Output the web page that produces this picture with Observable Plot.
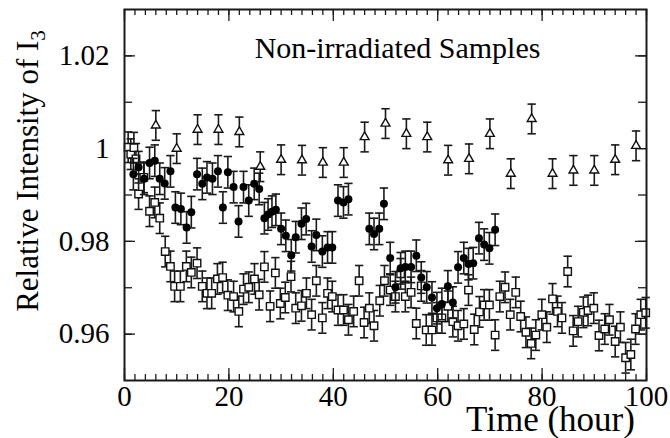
<!DOCTYPE html>
<html>
<head>
<meta charset="utf-8">
<script src="https://cdn.jsdelivr.net/npm/d3@7"></script>
<script src="https://cdn.jsdelivr.net/npm/@observablehq/plot@0.6"></script>
<style>
  html, body { margin: 0; padding: 0; background: #fff; }
  #chart svg { display: block; }
</style>
</head>
<body>
<div id="chart"></div>
<script>
// ---- data ----
const triT = [6, 10, 14, 18, 22, 26, 30, 34, 38, 42, 46, 50, 54, 58, 62, 66, 70, 74, 78, 82, 86, 90, 94, 98];
const triV = [1.005, 1.000, 1.0041, 1.0041, 1.0036, 0.9961, 0.9976, 0.9975, 0.997, 0.997, 1.0025, 1.0054, 1.0032, 1.0025, 0.9975, 0.9978, 1.0032, 0.9946, 1.0064, 0.9946, 0.9953, 0.9953, 0.9976, 1.0006];

const circT = [1.7, 2.7, 3.75, 4.8, 5.8, 6.75, 7.7, 8.8, 9.75, 10.8, 11.9, 12.8, 13.9, 14.9, 15.8, 16.85, 17.9, 18.85, 19.8, 20.9, 21.85, 22.8, 23.8, 24.85, 25.8, 26.8, 27.5, 28.25, 29, 30, 30.9, 31.95, 32.8, 33.9, 34.8, 35.85, 36.75, 37.9, 38.9, 39.8, 40.9, 41.95, 42.9, 46.9, 47.8, 48.8, 49.7, 50.9, 51.9, 52.9, 53.8, 54.9, 55.9, 56.85, 57.9, 58.9, 59.85, 60.8, 61.95, 62.9, 63.9, 65, 65.9, 66.8, 67.9, 68.9, 69.9, 71];
const circV = [0.9945, 0.996, 0.9935, 0.9969, 0.9974, 0.9935, 0.9925, 0.9951, 0.9873, 0.987, 0.983, 0.9863, 0.9945, 0.9924, 0.9938, 0.9935, 0.9951, 0.9873, 0.9949, 0.9917, 0.9843, 0.9917, 0.9888, 0.9924, 0.9913, 0.985, 0.9858, 0.9864, 0.9868, 0.9827, 0.9812, 0.977, 0.9809, 0.9838, 0.9848, 0.9789, 0.9814, 0.9778, 0.9787, 0.9787, 0.9888, 0.9884, 0.9891, 0.9827, 0.9816, 0.9827, 0.9881, 0.9764, 0.9701, 0.9742, 0.9745, 0.9745, 0.9769, 0.9722, 0.9701, 0.9679, 0.9656, 0.9665, 0.9703, 0.9668, 0.9744, 0.9764, 0.9751, 0.9753, 0.9807, 0.9793, 0.9785, 0.9825];

const sqT = [0.7, 1.2, 1.8, 2.2, 2.7, 3.7, 4.8, 5.8, 6.75, 7.8, 8.8, 9.6, 10.7, 11.85, 12.8, 13.9, 14.9, 15.8, 16.7, 17.8, 18.8, 19.8, 20.9, 21.9, 22.8, 23.8, 24.9, 25.8, 26.8, 27.9, 28.9, 29.85, 30.8, 31.9, 32.8, 33.9, 34.85, 35.85, 36.75, 37.9, 38.9, 39.8, 40.9, 41.95, 42.9, 43.9, 44.95, 45.9, 46.9, 47.8, 48.9, 49.8, 50.9, 51.9, 52.9, 53.8, 54.9, 55.9, 56.85, 57.8, 58.9, 59.85, 60.8, 61.95, 62.9, 63.9, 65, 65.9, 67, 68, 68.9, 69.9, 71, 71.9, 72.9, 73.9, 74.95, 75.9, 76.9, 77.9, 78.8, 79.95, 80.9, 82, 82.95, 83.8, 84.9, 85.95, 86.9, 87.9, 88.8, 89.9, 90.9, 92, 92.9, 94, 95, 96, 97, 97.9, 98.9, 99.85];
const sqV = [1.0003, 0.9988, 1.0002, 0.9978, 0.9902, 0.9938, 0.9865, 0.9884, 0.985, 0.9778, 0.9746, 0.9703, 0.9703, 0.9746, 0.9733, 0.9753, 0.9703, 0.9688, 0.9688, 0.9719, 0.9722, 0.9684, 0.9681, 0.9649, 0.9697, 0.9701, 0.9719, 0.9685, 0.9745, 0.966, 0.9732, 0.9666, 0.9679, 0.9724, 0.9656, 0.9661, 0.9688, 0.9642, 0.9715, 0.9635, 0.9688, 0.9681, 0.9652, 0.9652, 0.9631, 0.9649, 0.9715, 0.9625, 0.9656, 0.9618, 0.9672, 0.9715, 0.9695, 0.9681, 0.973, 0.9681, 0.969, 0.9623, 0.9704, 0.9609, 0.9609, 0.9635, 0.9635, 0.966, 0.9627, 0.9618, 0.9622, 0.9695, 0.961, 0.9648, 0.9663, 0.9663, 0.9598, 0.9681, 0.9701, 0.9642, 0.969, 0.9638, 0.9604, 0.958, 0.9598, 0.9642, 0.9615, 0.9676, 0.9649, 0.9635, 0.9735, 0.9607, 0.9627, 0.9647, 0.9651, 0.9656, 0.9597, 0.9611, 0.9631, 0.9584, 0.9615, 0.9549, 0.9556, 0.9611, 0.9642, 0.9646];

const errTri = 0.0032;
const errCirc = 0.0034;
const errSq = 0.0033;

const xTickValues = [0, 20, 40, 60, 80, 100];
const xTickLabels = ["0", "20", "40", "60", "80", "100"];
const yTickValues = [0.96, 0.98, 1.00, 1.02];
const yTickLabels = ["0.96", "0.98", "1", "1.02"];
const xMinorTicks = d3.range(0, 101, 2);
const yMinorTicks = [0.96, 0.97, 0.98, 0.99, 1.00, 1.01, 1.02];

const titleText = "Non-irradiated Samples";
const xTitle = "Time (hour)";
const yTitle = "Relative Intensity of I";
const ySub = "3";

// ---- build tables ----
const tri = triT.map((t, i) => ({t, v: triV[i], e: errTri}));
const circ = circT.map((t, i) => ({t, v: circV[i], e: errCirc}));
const sq = sqT.map((t, i) => ({t, v: sqV[i], e: errSq}));

const W = 670, H = 438;
const mL = 124, mR = 24, mT = 9, mB = 58;
const pw = W - mL - mR, ph = H - mT - mB;
const capHalf = 0.8; // hours
const FONT = "'Liberation Serif', 'Times New Roman', serif";
const INK = "#1a1a1a";

function errMarks(data) {
  return [
    Plot.ruleX(data, {x: "t", y1: d => d.v - d.e, y2: d => d.v + d.e, stroke: INK, strokeWidth: 1.6}),
    Plot.link(data, {x1: d => d.t - capHalf, x2: d => d.t + capHalf, y1: d => d.v + d.e, y2: d => d.v + d.e, stroke: INK, strokeWidth: 1.6}),
    Plot.link(data, {x1: d => d.t - capHalf, x2: d => d.t + capHalf, y1: d => d.v - d.e, y2: d => d.v - d.e, stroke: INK, strokeWidth: 1.6})
  ];
}

const chart = Plot.plot({
  width: W,
  height: H,
  marginLeft: mL,
  marginRight: mR,
  marginTop: mT,
  marginBottom: mB,
  style: {fontFamily: FONT, background: "#fff", color: "#000"},
  x: {domain: [0, 100], label: null},
  y: {domain: [0.95, 1.03], label: null},
  marks: [
    // inward ticks
    Plot.tickX(xMinorTicks, {x: d => d, stroke: INK, strokeWidth: 1.3, insetTop: ph - 6}),
    Plot.tickX(xTickValues, {x: d => d, stroke: INK, strokeWidth: 1.3, insetTop: ph - 12}),
    Plot.tickX(xMinorTicks, {x: d => d, stroke: INK, strokeWidth: 1.3, insetBottom: ph - 6}),
    Plot.tickX(xTickValues, {x: d => d, stroke: INK, strokeWidth: 1.3, insetBottom: ph - 12}),
    Plot.tickY(yMinorTicks, {y: d => d, stroke: INK, strokeWidth: 1.3, insetRight: pw - 8}),
    Plot.tickY(yTickValues, {y: d => d, stroke: INK, strokeWidth: 1.3, insetRight: pw - 11}),
    Plot.tickY(yMinorTicks, {y: d => d, stroke: INK, strokeWidth: 1.3, insetLeft: pw - 8}),
    Plot.tickY(yTickValues, {y: d => d, stroke: INK, strokeWidth: 1.3, insetLeft: pw - 11}),
    // squares
    ...errMarks(sq),
    Plot.dot(sq, {x: "t", y: "v", symbol: "square", r: 4.2, fill: "#fff", stroke: "#111", strokeWidth: 1.4}),
    // circles
    ...errMarks(circ),
    Plot.dot(circ, {x: "t", y: "v", symbol: "circle", r: 4, fill: "#000", stroke: "none"}),
    // triangles
    ...errMarks(tri),
    Plot.dot(tri, {x: "t", y: "v", symbol: "triangle", r: 3.3, fill: "#fff", stroke: "#111", strokeWidth: 1.4}),
    Plot.frame({stroke: INK, strokeWidth: 2}),
    // axes labels
    Plot.axisX(xTickValues, {anchor: "bottom", tickSize: 0, tickPadding: 5, fontSize: 29, tickFormat: (d, i) => xTickLabels[i], fill: "#000"}),
    Plot.axisY(yTickValues, {anchor: "left", tickSize: 0, tickPadding: 15, fontSize: 29, tickFormat: (d, i) => yTickLabels[i], fill: "#000"}),
    Plot.text([titleText], {frameAnchor: "top", textAnchor: "middle", lineAnchor: "middle", dx: 12, dy: 39, text: d => d, fontSize: 30, fill: "#000"}),
    Plot.text([xTitle], {frameAnchor: "bottom", textAnchor: "middle", lineAnchor: "middle", dx: 165, dy: 39, text: d => d, fontSize: 35, fill: "#000"}),
    Plot.text([yTitle], {frameAnchor: "left", textAnchor: "middle", lineAnchor: "middle", dx: -96, dy: -24, rotate: -90, text: d => d, fontSize: 31, fill: "#000", className: "ytitle"})
  ]
});

// add subscript to the y title
const yt = d3.select(chart).select("g.ytitle text");
if (!yt.empty()) {
  yt.append("tspan").attr("dy", "0.3em").attr("font-size", "21").text(ySub);
}

document.getElementById("chart").appendChild(chart);
</script>
</body>
</html>
